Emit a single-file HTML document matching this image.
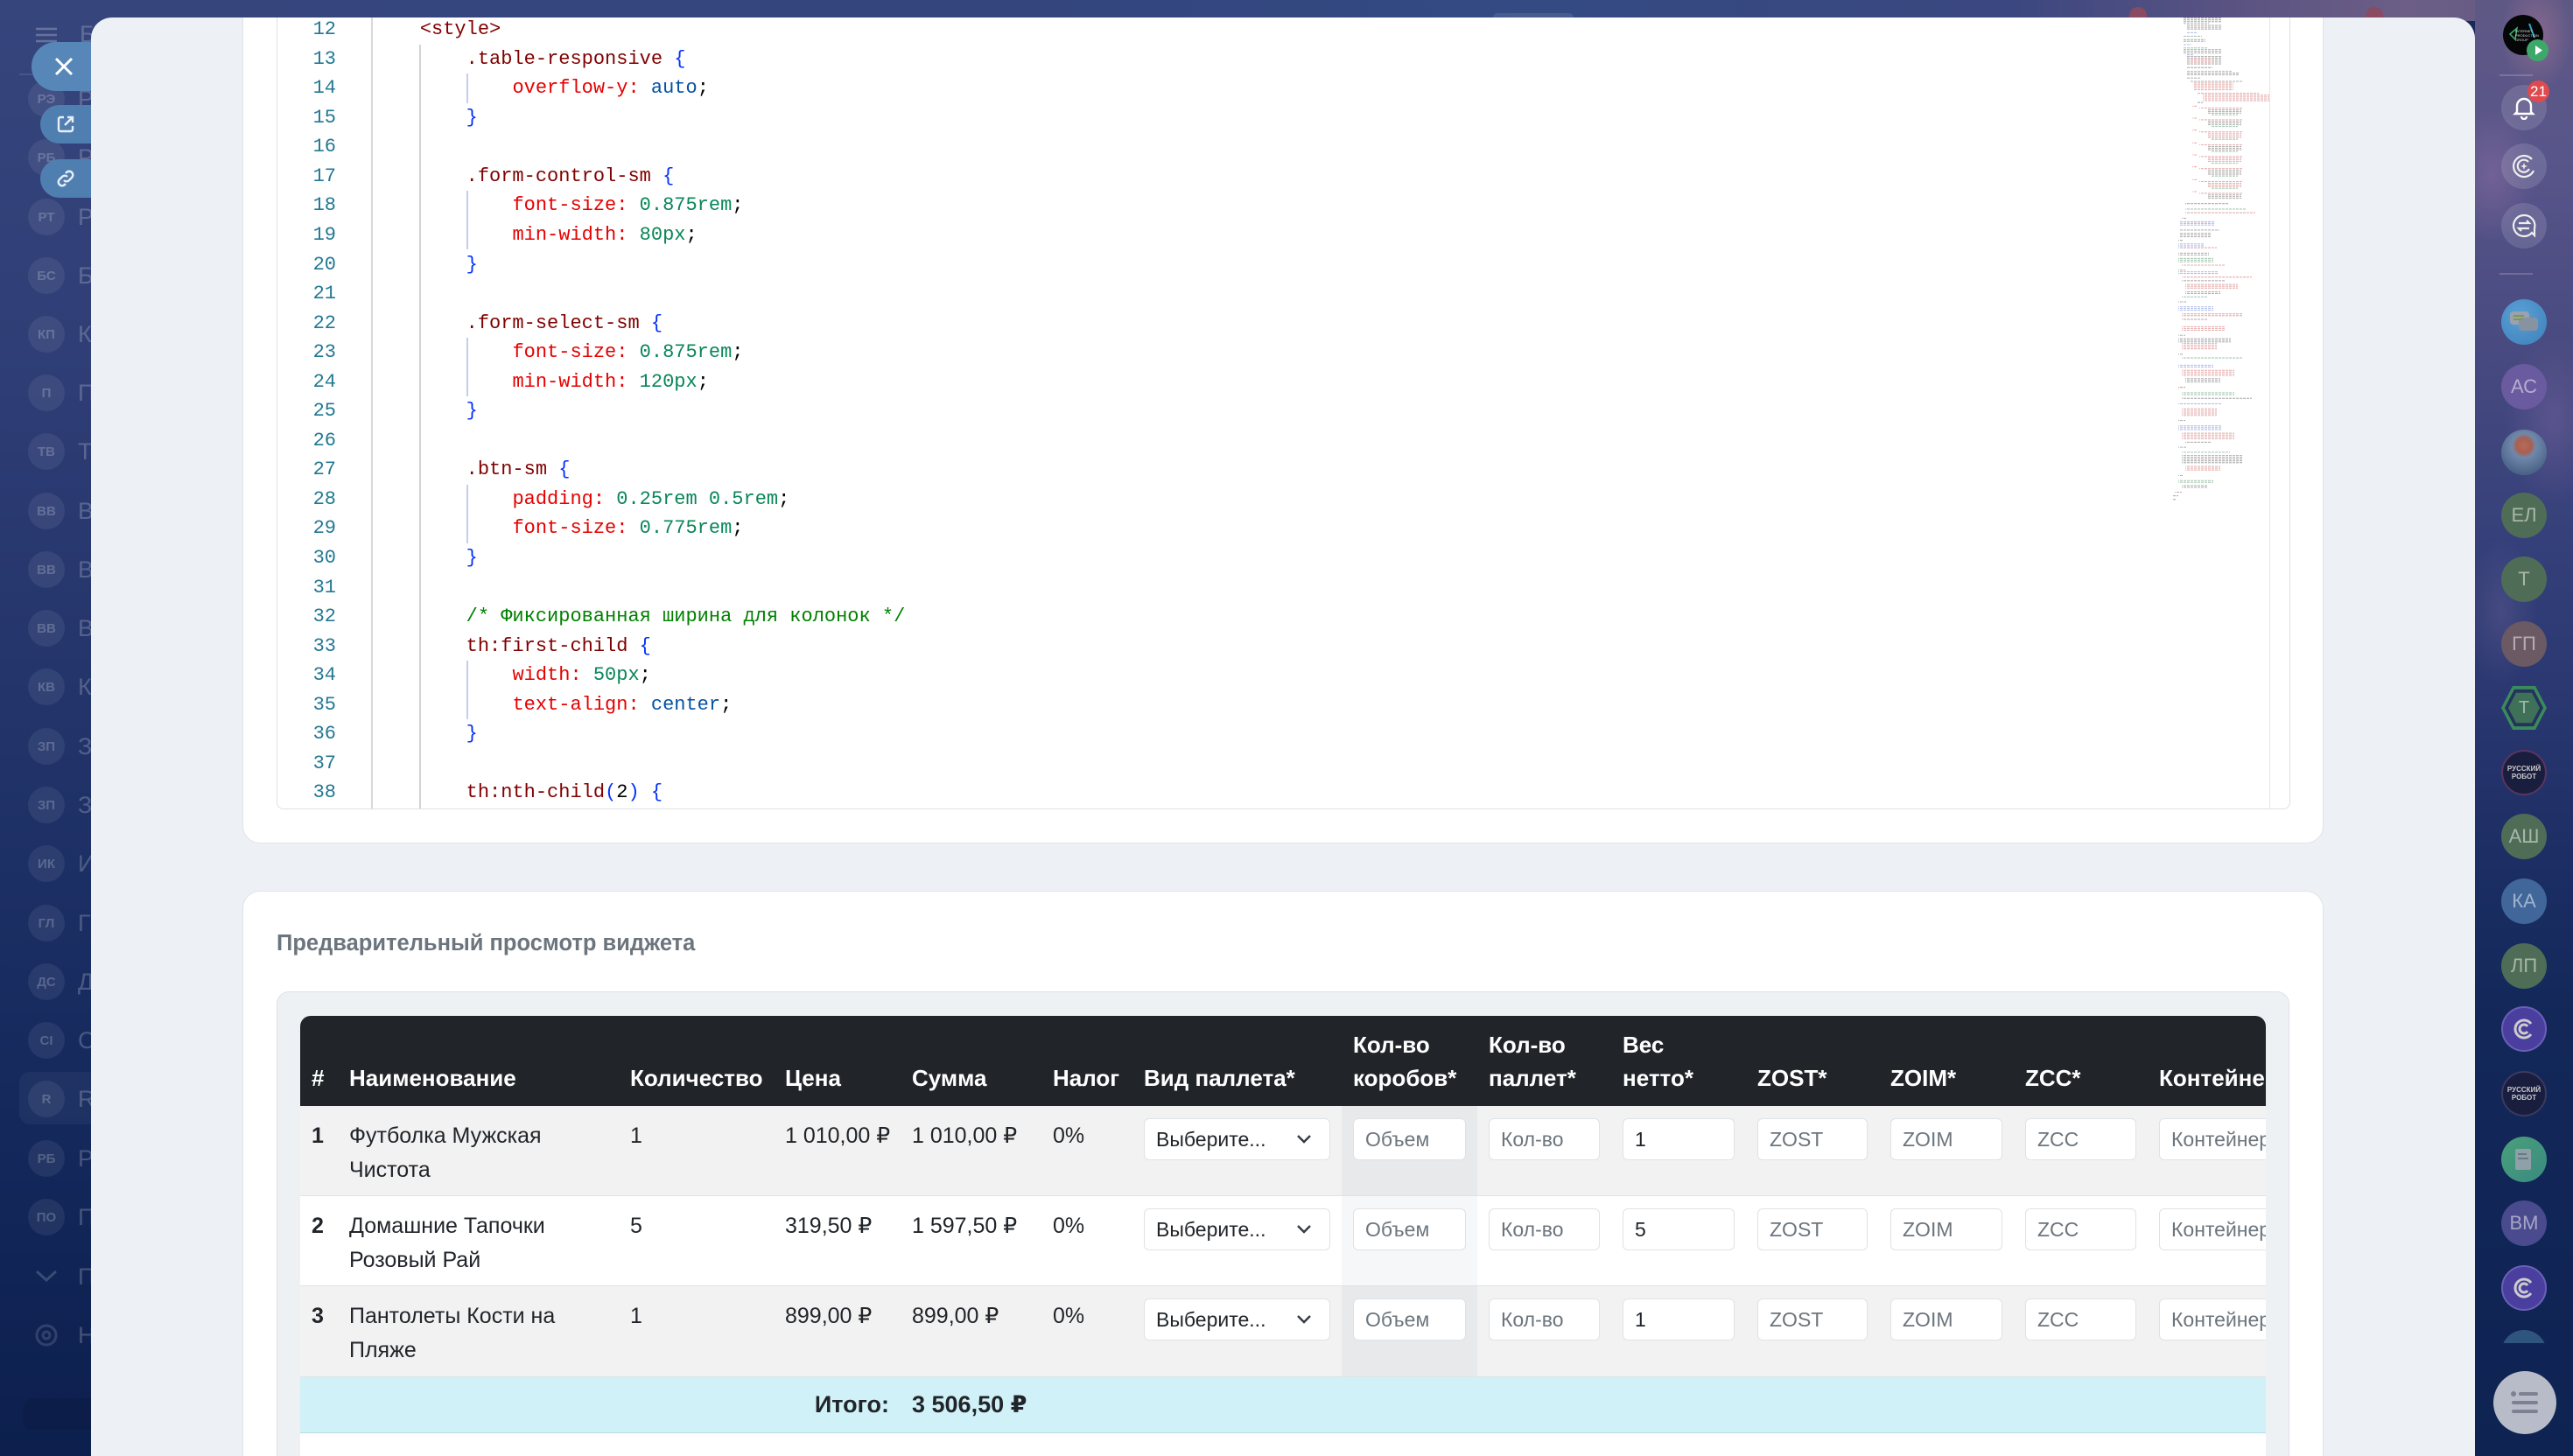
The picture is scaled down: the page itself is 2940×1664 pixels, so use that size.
<!DOCTYPE html>
<html><head><meta charset="utf-8"><style>
*{box-sizing:border-box}
html,body{margin:0;width:2940px;height:1664px;overflow:hidden}
body{position:relative;font-family:"Liberation Sans","DejaVu Sans",sans-serif;background:#16285c}
.a{position:absolute}
#left{left:0;top:0;width:700px;height:1664px;background:linear-gradient(to bottom,#36457c 0,#2f3e76 400px,#213369 850px,#15295d 1250px,#0c1f4d 1664px)}
#top{left:0;top:0;width:2940px;height:24px;background:linear-gradient(to right,#36457c 0,#34457e 1200px,#334a82 1700px,#3b4780 2300px,#5a5382 2550px,#6c5e86 2750px,#615a84 2940px)}
#right{left:2828px;top:0;width:112px;height:1664px;background:
radial-gradient(60px 90px at 70px 40px,rgba(170,120,150,.55),transparent 70%),
radial-gradient(70px 110px at 20px 200px,rgba(140,110,160,.5),transparent 70%),
radial-gradient(80px 140px at 90px 480px,rgba(120,100,160,.45),transparent 70%),
radial-gradient(60px 120px at 30px 700px,rgba(110,100,150,.35),transparent 70%),
linear-gradient(to bottom,#5e5884 0,#58558a 180px,#46497f 420px,#35407a 620px,#2a3770 800px,#1c2e64 980px,#132859 1160px,#0e2352 1664px)}
.av{position:absolute;left:32px;width:42px;height:42px;border-radius:50%;background:rgba(255,255,255,.07);color:rgba(255,255,255,.22);font-size:15px;font-weight:bold;display:flex;align-items:center;justify-content:center}
.nm{position:absolute;left:89px;font-size:27px;color:rgba(255,255,255,.22);line-height:34px}
.pill{position:absolute;border-radius:30px;display:flex;align-items:center}
#panel{left:104px;top:20px;width:2724px;height:1644px;background:#edf1f5;border-radius:24px 24px 0 0;overflow:hidden}
#inner{position:absolute;left:-104px;top:-20px;width:2940px;height:1664px;overflow:hidden}
.card{position:absolute;background:#fff;border:1px solid #e0e4e9;border-radius:20px}
.code{position:absolute;font-family:"Liberation Mono","DejaVu Sans Mono",monospace;font-size:22px;line-height:33.54px;white-space:pre;color:#000}
.s{color:#800000}.p{color:#e50000}.n{color:#098658}.v{color:#0451a5}.b{color:#0431fa}.c2{color:#008000}
.g{position:absolute;width:2px}
.ri{position:absolute;left:2858px;width:52px;height:52px;border-radius:50%;display:flex;align-items:center;justify-content:center;font-size:22px;color:rgba(255,255,255,.5)}
.row{position:absolute;left:0;width:2300px;display:flex}
.c{flex:none;padding:0 13px;white-space:nowrap;height:100%}
.w1{width:43px}.w2{width:321px}.w3{width:177px}.w4{width:145px}.w5{width:161px}.w6{width:104px}.w7{width:239px}.w8{width:155px}.w9{width:153px}.w10{width:154px}.w11{width:152px}.w12{width:154px}.w13{width:153px}.w14{width:200px}
.hd{background:#212529;color:#fff;font-weight:bold;font-size:26px;line-height:37.5px}
.hd .c{display:flex;flex-direction:column;justify-content:flex-end;padding-bottom:13px}
.bd{font-size:25px;line-height:39px;color:#212529;border-bottom:1px solid #dee2e6}
.bd .c{padding-top:15px}
.bd .c.f{padding-top:14px}
.st{background:#f2f2f2}
.sh{background:#e8e9eb}.sh2{background:#f6f7f8}
.in{height:48px;border:1px solid #dee2e6;border-radius:6px;background:#fff;padding-left:13px;line-height:46px;font-size:23px;color:#6c757d;white-space:nowrap;overflow:hidden;position:relative}
.in.v{color:#212529}
</style></head><body>

<div id="left" class="a"></div>
<div id="top" class="a"></div>
<div class="a" style="left:1706px;top:15px;width:92px;height:5px;border-radius:8px 8px 0 0;background:rgba(255,255,255,.1)"></div>
<div class="a" style="left:2433px;top:8px;width:20px;height:12px;border-radius:10px 10px 0 0;background:#8a4a62"></div>
<div class="a" style="left:2703px;top:8px;width:20px;height:12px;border-radius:10px 10px 0 0;background:#8a4a62"></div>

<!-- left sidebar faded -->
<svg class="a" style="left:41px;top:31px" width="24" height="18"><g stroke="rgba(255,255,255,.25)" stroke-width="2.5"><line x1="0" y1="2" x2="24" y2="2"/><line x1="0" y1="9" x2="24" y2="9"/><line x1="0" y1="16" x2="24" y2="16"/></g></svg>
<div class="nm" style="top:22px;left:91px">Б</div>
<div class="a" style="left:22px;top:84px;width:90px;height:2px;background:rgba(255,255,255,.1)"></div>
<div class="a" style="left:22px;top:1225px;width:200px;height:60px;border-radius:12px;background:rgba(255,255,255,.045)"></div>
<div class="av" style="top:92px">РЭ</div><div class="nm" style="top:96px">Р</div>
<div class="av" style="top:159px">РБ</div><div class="nm" style="top:163px">Р</div>
<div class="av" style="top:227px">РТ</div><div class="nm" style="top:231px">Р</div>
<div class="av" style="top:294px">БС</div><div class="nm" style="top:298px">Б</div>
<div class="av" style="top:361px">КП</div><div class="nm" style="top:365px">К</div>
<div class="av" style="top:428px">П</div><div class="nm" style="top:432px">П</div>
<div class="av" style="top:495px">ТВ</div><div class="nm" style="top:499px">Т</div>
<div class="av" style="top:563px">ВВ</div><div class="nm" style="top:567px">В</div>
<div class="av" style="top:630px">ВВ</div><div class="nm" style="top:634px">В</div>
<div class="av" style="top:697px">ВВ</div><div class="nm" style="top:701px">В</div>
<div class="av" style="top:764px">КВ</div><div class="nm" style="top:768px">К</div>
<div class="av" style="top:832px">ЗП</div><div class="nm" style="top:836px">З</div>
<div class="av" style="top:899px">ЗП</div><div class="nm" style="top:903px">З</div>
<div class="av" style="top:966px">ИК</div><div class="nm" style="top:970px">И</div>
<div class="av" style="top:1034px">ГЛ</div><div class="nm" style="top:1038px">Г</div>
<div class="av" style="top:1101px">ДС</div><div class="nm" style="top:1105px">Д</div>
<div class="av" style="top:1168px">СІ</div><div class="nm" style="top:1172px">С</div>
<div class="av" style="top:1235px">R</div><div class="nm" style="top:1239px">R</div>
<div class="av" style="top:1303px">РБ</div><div class="nm" style="top:1307px">Р</div>
<div class="av" style="top:1370px">ПО</div><div class="nm" style="top:1374px">П</div>
<svg class="a" style="left:40px;top:1450px" width="26" height="16"><polyline points="2,3 13,13 24,3" fill="none" stroke="rgba(255,255,255,.18)" stroke-width="3"/></svg><div class="nm" style="top:1442px">П</div>
<svg class="a" style="left:38px;top:1511px" width="30" height="30"><circle cx="15" cy="15" r="11" fill="none" stroke="rgba(255,255,255,.14)" stroke-width="3"/><circle cx="15" cy="15" r="4" fill="none" stroke="rgba(255,255,255,.14)" stroke-width="3"/></svg><div class="nm" style="top:1509px">Н</div>
<div class="a" style="left:26px;top:1598px;width:300px;height:36px;border-radius:12px;background:rgba(0,0,0,.08)"></div>

<!-- floating pills -->
<div class="pill" style="left:36px;top:48px;width:140px;height:56px;background:#5687b8"><svg style="margin-left:26px" width="22" height="22"><g stroke="#fff" stroke-width="3"><line x1="2" y1="2" x2="20" y2="20"/><line x1="20" y1="2" x2="2" y2="20"/></g></svg></div>
<div class="pill" style="left:46px;top:120px;width:120px;height:44px;background:#4f7eb0"><svg style="margin-left:18px" width="22" height="22" fill="none" stroke="#e8eef6" stroke-width="2.4"><path d="M9 3H5a2 2 0 0 0-2 2v12a2 2 0 0 0 2 2h12a2 2 0 0 0 2-2v-4"/><path d="M13 3h6v6M19 3l-9 9"/></svg></div>
<div class="pill" style="left:46px;top:182px;width:120px;height:44px;background:#4f7eb0"><svg style="margin-left:18px" width="22" height="22" fill="none" stroke="#e8eef6" stroke-width="2.4"><path d="M9 13a4 4 0 0 0 6 0l3-3a4 4 0 0 0-6-6l-1 1"/><path d="M13 9a4 4 0 0 0-6 0l-3 3a4 4 0 0 0 6 6l1-1"/></svg></div>

<!-- right sidebar -->
<div id="right" class="a"></div>
<div class="a" style="left:2860px;top:17px;width:46px;height:46px;border-radius:50%;background:#050608;overflow:hidden"><svg width="46" height="46"><path d="M8 22 L16 15 L14 28 Z" fill="none" stroke="#3fb06a" stroke-width="1.5"/><path d="M30 10 L36 26" stroke="#3aa8c0" stroke-width="2"/><text x="14" y="20" font-size="4" fill="#ddd" font-family="Liberation Sans">INTERNET</text><text x="14" y="25" font-size="4" fill="#ddd" font-family="Liberation Sans">PRODUCTION</text><text x="14" y="30" font-size="4" fill="#ddd" font-family="Liberation Sans">GROUP</text></svg></div>
<div class="a" style="left:2887px;top:45px;width:25px;height:25px;border-radius:50%;background:#3da86a"><svg width="25" height="25"><polygon points="10,7 18,12.5 10,18" fill="#fff"/></svg></div>
<div class="a" style="left:2856px;top:85px;width:38px;height:2px;background:rgba(255,255,255,.18)"></div>
<div class="ri" style="top:97px;background:rgba(255,255,255,.13)"><svg width="28" height="28" fill="none" stroke="#fff" stroke-width="2.4"><path d="M6 19V12a8 8 0 0 1 16 0v7l2 2H4z"/><path d="M11 24a3 3 0 0 0 6 0"/></svg></div>
<div class="a" style="left:2888px;top:92px;width:25px;height:25px;border-radius:50%;background:#df4a4f;color:#fff;font-size:17px;line-height:25px;text-align:center">21</div>
<div class="ri" style="top:164px;background:rgba(255,255,255,.13)"><svg width="30" height="30" fill="none" stroke="#eee" stroke-width="2.2"><path d="M26 20A12 12 0 1 1 24 7"/><path d="M21 18A7 7 0 1 1 20 10"/><path d="M15 11l1 3 3 1-3 1-1 3-1-3-3-1 3-1z" fill="#eee" stroke="none"/></svg></div>
<div class="ri" style="top:232px;background:rgba(255,255,255,.13)"><svg width="30" height="30" fill="none" stroke="#eee" stroke-width="2.2"><path d="M15 3a12 12 0 1 0 9 20l3 3v-8A12 12 0 0 0 15 3z"/><path d="M9 12h12l-3-3M21 18H9l3 3"/></svg></div>
<div class="a" style="left:2856px;top:312px;width:38px;height:2px;background:rgba(255,255,255,.18)"></div>
<div class="ri" style="top:342px;background:radial-gradient(circle at 40% 35%,#5aa0d8,#3f7fb8)"><svg width="36" height="30"><rect x="2" y="3" width="22" height="15" rx="4" fill="#9aa3ad"/><rect x="12" y="10" width="22" height="15" rx="4" fill="#8793a0"/><rect x="6" y="7" width="12" height="2" fill="#7a9a4a"/><rect x="6" y="11" width="10" height="2" fill="#7a9a4a"/></svg></div>
<div class="ri" style="top:416px;background:#6a5aa0">АС</div>
<div class="ri" style="top:491px;background:radial-gradient(circle at 50% 35%,#b86a5a 0,#a86050 20%,#7088aa 32%,#4a6488 75%)"></div>
<div class="ri" style="top:563px;background:#4e6c56">ЕЛ</div>
<div class="ri" style="top:636px;background:#4e6c56">Т</div>
<div class="ri" style="top:710px;background:#6b5963">ГП</div>
<div class="ri" style="top:783px;background:#3a8a5c;border-radius:0;clip-path:polygon(25% 2%,75% 2%,100% 50%,75% 98%,25% 98%,0 50%)"></div>
<div class="ri" style="top:787px;left:2862px;width:44px;height:44px;background:#24325e;border-radius:0;clip-path:polygon(25% 2%,75% 2%,100% 50%,75% 98%,25% 98%,0 50%)"></div>
<div class="ri" style="top:791px;left:2866px;width:36px;height:36px;background:#3f7058;border-radius:0;clip-path:polygon(25% 2%,75% 2%,100% 50%,75% 98%,25% 98%,0 50%);font-size:20px">Т</div>
<div class="ri" style="top:857px;background:#1a1e3e;border:2px solid #5a3560;font-size:8px;font-weight:bold;line-height:9px;text-align:center;color:#ccc">РУССКИЙ<br>РОБОТ</div>
<div class="ri" style="top:930px;background:#4e6c56">АШ</div>
<div class="ri" style="top:1004px;background:#40669a">КА</div>
<div class="ri" style="top:1078px;background:#4e6c56">ЛП</div>
<div class="ri" style="top:1150px;background:#4a3e9e;border:2px solid #6a60b8"><svg width="28" height="28" fill="none" stroke="#ccc" stroke-width="3"><path d="M22 20A10 10 0 1 1 22 8"/><path d="M18 17A5 5 0 1 1 18 11"/></svg></div>
<div class="ri" style="top:1224px;background:#1a1e3e;border:2px solid #3a3a60;font-size:8px;font-weight:bold;line-height:9px;text-align:center;color:#ccc">РУССКИЙ<br>РОБОТ</div>
<div class="ri" style="top:1299px;background:linear-gradient(135deg,#4aa07a,#3a8a80)"><svg width="26" height="30"><rect x="3" y="3" width="18" height="24" rx="2" fill="#8fa0a8"/><rect x="6" y="8" width="10" height="2" fill="#6a7a84"/><rect x="6" y="13" width="12" height="2" fill="#6a7a84"/></svg></div>
<div class="ri" style="top:1372px;background:#4a4a8e">ВМ</div>
<div class="ri" style="top:1446px;background:#4a3e9e;border:2px solid #6a60b8"><svg width="28" height="28" fill="none" stroke="#ccc" stroke-width="3"><path d="M22 20A10 10 0 1 1 22 8"/><path d="M18 17A5 5 0 1 1 18 11"/></svg></div>
<div class="a" style="left:2858px;top:1520px;width:52px;height:15px;overflow:hidden"><div style="width:52px;height:52px;border-radius:50%;background:#2f557e"></div></div>
<div class="a" style="left:2849px;top:1567px;width:72px;height:72px;border-radius:50%;background:#b8bcc8"><svg width="72" height="72"><g fill="#7d8292"><circle cx="23" cy="26" r="3"/><rect x="29" y="24" width="22" height="4" rx="2"/><rect x="21" y="34" width="30" height="4" rx="2"/><rect x="21" y="44" width="30" height="4" rx="2"/></g></svg></div>

<!-- main panel -->
<div id="panel" class="a"><div id="inner">

<div class="card" style="left:277px;top:-40px;width:2378px;height:1004px"></div>
<div class="a" style="left:316px;top:-40px;width:2301px;height:965px;border:1px solid #dce1e6;border-radius:8px;background:#fff"></div>

<div class="g" style="left:424px;top:0;height:924px;background:#d9d9d9"></div>
<div class="g" style="left:479px;top:51px;height:873px;background:#d3d3d3"></div>
<div class="g" style="left:533px;top:84px;height:34px;background:#c6ccf2"></div>
<div class="g" style="left:533px;top:218px;height:67px;background:#c6ccf2"></div>
<div class="g" style="left:533px;top:386px;height:67px;background:#c6ccf2"></div>
<div class="g" style="left:533px;top:554px;height:67px;background:#c6ccf2"></div>
<div class="g" style="left:533px;top:755px;height:67px;background:#c6ccf2"></div>

<div class="code" style="left:300px;top:17.2px;width:84px;text-align:right;color:#237893">12
13
14
15
16
17
18
19
20
21
22
23
24
25
26
27
28
29
30
31
32
33
34
35
36
37
38</div>

<div class="code" style="left:427px;top:17.2px">    <span class="s">&lt;style&gt;</span>
        <span class="s">.table-responsive</span> <span class="b">{</span>
            <span class="p">overflow-y:</span> <span class="v">auto</span>;
        <span class="b">}</span>

        <span class="s">.form-control-sm</span> <span class="b">{</span>
            <span class="p">font-size:</span> <span class="n">0.875rem</span>;
            <span class="p">min-width:</span> <span class="n">80px</span>;
        <span class="b">}</span>

        <span class="s">.form-select-sm</span> <span class="b">{</span>
            <span class="p">font-size:</span> <span class="n">0.875rem</span>;
            <span class="p">min-width:</span> <span class="n">120px</span>;
        <span class="b">}</span>

        <span class="s">.btn-sm</span> <span class="b">{</span>
            <span class="p">padding:</span> <span class="n">0.25rem</span> <span class="n">0.5rem</span>;
            <span class="p">font-size:</span> <span class="n">0.775rem</span>;
        <span class="b">}</span>

        <span class="c2">/* Фиксированная ширина для колонок */</span>
        <span class="s">th:first-child</span> <span class="b">{</span>
            <span class="p">width:</span> <span class="n">50px</span>;
            <span class="p">text-align:</span> <span class="v">center</span>;
        <span class="b">}</span>

        <span class="s">th:nth-child</span><span class="b">(</span>2<span class="b">)</span> <span class="b">{</span></div>

<!-- minimap -->
<svg class="a" style="left:2483px;top:20px" width="112" height="560">
<defs>
<pattern id="k" width="4" height="2.1" patternUnits="userSpaceOnUse"><rect width="3" height="1.1" fill="#8a8a8a"/></pattern>
<pattern id="r" width="4" height="2.1" patternUnits="userSpaceOnUse"><rect width="3" height="1.1" fill="#dc8a8a"/></pattern>
<pattern id="u" width="4" height="2.1" patternUnits="userSpaceOnUse"><rect width="3" height="1.1" fill="#8c9ce0"/></pattern>
<pattern id="e" width="4" height="2.1" patternUnits="userSpaceOnUse"><rect width="3" height="1.1" fill="#80b090"/></pattern>
</defs>
<g opacity="0.7">
<rect x="11" y="0" width="45" height="6" fill="url(#k)"/><rect x="11" y="6" width="30" height="2" fill="url(#e)"/><rect x="15" y="8" width="40" height="6" fill="url(#k)"/><rect x="20" y="10" width="18" height="2" fill="url(#r)"/><rect x="15" y="16" width="12" height="2" fill="url(#u)"/><rect x="11" y="20" width="22" height="2" fill="url(#e)"/><rect x="11" y="24" width="26" height="4" fill="url(#k)"/><rect x="11" y="30" width="10" height="2" fill="url(#u)"/><rect x="11" y="34" width="28" height="2" fill="url(#e)"/><rect x="11" y="36" width="44" height="6" fill="url(#k)"/>
<rect x="15" y="42" width="8" height="2" fill="url(#u)"/><rect x="15" y="44" width="40" height="10" fill="url(#k)"/><rect x="20" y="46" width="25" height="6" fill="url(#r)"/><rect x="15" y="56" width="30" height="2" fill="url(#k)"/><rect x="15" y="60" width="52" height="2" fill="url(#e)"/><rect x="15" y="62" width="60" height="4" fill="url(#k)"/><rect x="15" y="68" width="16" height="2" fill="url(#k)"/>
<rect x="20" y="72" width="60" height="2" fill="url(#k)"/><rect x="24" y="74" width="45" height="10" fill="url(#r)"/><rect x="28" y="86" width="70" height="2" fill="url(#r)"/><rect x="34" y="88" width="76" height="8" fill="url(#r)"/><rect x="28" y="96" width="6" height="2" fill="url(#k)"/>
<rect x="22" y="100" width="6" height="2" fill="url(#r)"/><rect x="30" y="102" width="50" height="2" fill="url(#r)"/><rect x="40" y="104" width="38" height="6" fill="url(#k)"/><rect x="44" y="110" width="30" height="2" fill="url(#e)"/>
<rect x="22" y="114" width="6" height="2" fill="url(#r)"/><rect x="30" y="116" width="50" height="2" fill="url(#r)"/><rect x="40" y="118" width="38" height="6" fill="url(#k)"/><rect x="44" y="124" width="30" height="2" fill="url(#e)"/>
<rect x="22" y="128" width="6" height="2" fill="url(#r)"/><rect x="30" y="130" width="50" height="2" fill="url(#r)"/><rect x="40" y="132" width="38" height="6" fill="url(#r)"/><rect x="44" y="138" width="30" height="2" fill="url(#e)"/>
<rect x="22" y="142" width="6" height="2" fill="url(#r)"/><rect x="30" y="144" width="50" height="2" fill="url(#r)"/><rect x="40" y="146" width="38" height="6" fill="url(#k)"/><rect x="44" y="152" width="30" height="2" fill="url(#e)"/>
<rect x="22" y="156" width="6" height="2" fill="url(#r)"/><rect x="30" y="158" width="50" height="2" fill="url(#r)"/><rect x="40" y="160" width="38" height="6" fill="url(#r)"/><rect x="44" y="166" width="30" height="2" fill="url(#e)"/>
<rect x="22" y="170" width="6" height="2" fill="url(#r)"/><rect x="30" y="172" width="50" height="2" fill="url(#r)"/><rect x="40" y="174" width="38" height="6" fill="url(#k)"/><rect x="44" y="180" width="30" height="2" fill="url(#e)"/>
<rect x="22" y="184" width="6" height="2" fill="url(#r)"/><rect x="30" y="186" width="50" height="2" fill="url(#r)"/><rect x="40" y="188" width="38" height="6" fill="url(#r)"/><rect x="44" y="194" width="30" height="2" fill="url(#e)"/>
<rect x="22" y="198" width="6" height="2" fill="url(#r)"/><rect x="30" y="200" width="50" height="2" fill="url(#r)"/><rect x="40" y="202" width="38" height="6" fill="url(#k)"/>
<rect x="14" y="212" width="50" height="2" fill="url(#k)"/><rect x="14" y="218" width="70" height="2" fill="url(#e)"/><rect x="14" y="222" width="80" height="2" fill="url(#r)"/><rect x="10" y="228" width="6" height="2" fill="url(#k)"/><rect x="8" y="232" width="40" height="6" fill="url(#u)"/><rect x="12" y="234" width="30" height="2" fill="url(#r)"/><rect x="8" y="242" width="45" height="2" fill="url(#k)"/><rect x="8" y="246" width="35" height="6" fill="url(#k)"/><rect x="6" y="254" width="6" height="2" fill="url(#k)"/>
<rect x="6" y="258" width="30" height="6" fill="url(#u)"/><rect x="10" y="262" width="40" height="2" fill="url(#r)"/><rect x="6" y="268" width="35" height="4" fill="url(#k)"/><rect x="6" y="274" width="40" height="6" fill="url(#e)"/><rect x="10" y="282" width="50" height="2" fill="url(#r)"/><rect x="6" y="288" width="8" height="2" fill="url(#k)"/>
<rect x="6" y="290" width="45" height="4" fill="url(#u)"/><rect x="10" y="296" width="80" height="2" fill="url(#r)"/><rect x="10" y="300" width="50" height="2" fill="url(#k)"/><rect x="14" y="304" width="60" height="6" fill="url(#r)"/><rect x="14" y="312" width="40" height="4" fill="url(#k)"/><rect x="10" y="318" width="30" height="2" fill="url(#e)"/><rect x="6" y="324" width="10" height="2" fill="url(#k)"/>
<rect x="6" y="330" width="40" height="6" fill="url(#u)"/><rect x="10" y="338" width="70" height="4" fill="url(#r)"/><rect x="10" y="344" width="30" height="2" fill="url(#k)"/><rect x="10" y="352" width="50" height="6" fill="url(#r)"/><rect x="6" y="362" width="8" height="2" fill="url(#k)"/><rect x="6" y="366" width="60" height="6" fill="url(#k)"/><rect x="10" y="372" width="40" height="8" fill="url(#r)"/><rect x="6" y="384" width="5" height="2" fill="url(#k)"/><rect x="10" y="388" width="70" height="2" fill="url(#e)"/><rect x="6" y="396" width="40" height="4" fill="url(#u)"/><rect x="10" y="402" width="60" height="8" fill="url(#r)"/><rect x="14" y="412" width="40" height="6" fill="url(#k)"/><rect x="6" y="422" width="8" height="2" fill="url(#k)"/><rect x="10" y="428" width="60" height="4" fill="url(#e)"/><rect x="10" y="434" width="80" height="2" fill="url(#k)"/><rect x="6" y="440" width="50" height="2" fill="url(#u)"/><rect x="10" y="446" width="40" height="10" fill="url(#r)"/><rect x="6" y="460" width="8" height="2" fill="url(#k)"/><rect x="6" y="466" width="50" height="6" fill="url(#u)"/><rect x="10" y="474" width="60" height="8" fill="url(#r)"/><rect x="14" y="484" width="30" height="2" fill="url(#k)"/><rect x="6" y="490" width="10" height="2" fill="url(#k)"/><rect x="10" y="496" width="55" height="2" fill="url(#e)"/><rect x="10" y="500" width="70" height="10" fill="url(#k)"/><rect x="14" y="512" width="40" height="6" fill="url(#r)"/><rect x="6" y="522" width="6" height="2" fill="url(#k)"/><rect x="6" y="528" width="40" height="4" fill="url(#e)"/><rect x="10" y="534" width="30" height="4" fill="url(#k)"/><rect x="2" y="542" width="8" height="2" fill="url(#k)"/><rect x="0" y="546" width="6" height="2" fill="url(#k)"/><rect x="0" y="550" width="4" height="2" fill="url(#k)"/>
</g>
</svg>
<div class="a" style="left:2593px;top:0;width:1px;height:924px;background:#e6e6e6"></div>

<!-- card 2 -->
<div class="card" style="left:277px;top:1018px;width:2378px;height:646px;border-bottom:none;border-radius:20px 20px 0 0"></div>
<div class="a" style="left:316px;top:1057px;font-size:25.5px;font-weight:bold;line-height:42px;color:#6c757d;white-space:nowrap">Предварительный просмотр виджета</div>
<div class="a" style="left:316px;top:1133px;width:2300px;height:531px;background:#eef1f4;border:1px solid #dde2e7;border-bottom:none;border-radius:14px 14px 0 0"></div>

<div class="a" style="left:343px;top:1161px;width:2246px;height:503px;overflow:hidden;border-radius:12px 12px 0 0;background:#fff">
<div class="row hd" style="top:0;height:103px">
<div class="c w1"><span>#</span></div><div class="c w2"><span>Наименование</span></div><div class="c w3"><span>Количество</span></div><div class="c w4"><span>Цена</span></div><div class="c w5"><span>Сумма</span></div><div class="c w6"><span>Налог</span></div><div class="c w7"><span>Вид паллета*</span></div><div class="c w8"><span>Кол-во<br>коробов*</span></div><div class="c w9"><span>Кол-во<br>паллет*</span></div><div class="c w10"><span>Вес<br>нетто*</span></div><div class="c w11"><span>ZOST*</span></div><div class="c w12"><span>ZOIM*</span></div><div class="c w13"><span>ZCC*</span></div><div class="c w14"><span>Контейнер</span></div>
</div>

<div class="row bd st" style="top:103px;height:103px">
<div class="c w1" style="font-weight:bold">1</div><div class="c w2">Футболка Мужская<br>Чистота</div><div class="c w3">1</div><div class="c w4">1&nbsp;010,00&nbsp;₽</div><div class="c w5">1&nbsp;010,00&nbsp;₽</div><div class="c w6">0%</div>
<div class="c w7 f"><div class="in v">Выберите...<svg class="a" style="left:173px;top:17px" width="18" height="12"><polyline points="2,2 9,9 16,2" fill="none" stroke="#343a40" stroke-width="2.4"/></svg></div></div>
<div class="c w8 f sh"><div class="in">Объем</div></div><div class="c w9 f"><div class="in">Кол-во</div></div><div class="c w10 f"><div class="in v">1</div></div><div class="c w11 f"><div class="in">ZOST</div></div><div class="c w12 f"><div class="in">ZOIM</div></div><div class="c w13 f"><div class="in">ZCC</div></div><div class="c w14 f"><div class="in" style="width:180px">Контейнер</div></div>
</div>

<div class="row bd" style="top:206px;height:103px;background:#fff">
<div class="c w1" style="font-weight:bold">2</div><div class="c w2">Домашние Тапочки<br>Розовый Рай</div><div class="c w3">5</div><div class="c w4">319,50&nbsp;₽</div><div class="c w5">1&nbsp;597,50&nbsp;₽</div><div class="c w6">0%</div>
<div class="c w7 f"><div class="in v">Выберите...<svg class="a" style="left:173px;top:17px" width="18" height="12"><polyline points="2,2 9,9 16,2" fill="none" stroke="#343a40" stroke-width="2.4"/></svg></div></div>
<div class="c w8 f sh2"><div class="in">Объем</div></div><div class="c w9 f"><div class="in">Кол-во</div></div><div class="c w10 f"><div class="in v">5</div></div><div class="c w11 f"><div class="in">ZOST</div></div><div class="c w12 f"><div class="in">ZOIM</div></div><div class="c w13 f"><div class="in">ZCC</div></div><div class="c w14 f"><div class="in" style="width:180px">Контейнер</div></div>
</div>

<div class="row bd st" style="top:309px;height:104px">
<div class="c w1" style="font-weight:bold">3</div><div class="c w2">Пантолеты Кости на<br>Пляже</div><div class="c w3">1</div><div class="c w4">899,00&nbsp;₽</div><div class="c w5">899,00&nbsp;₽</div><div class="c w6">0%</div>
<div class="c w7 f"><div class="in v">Выберите...<svg class="a" style="left:173px;top:17px" width="18" height="12"><polyline points="2,2 9,9 16,2" fill="none" stroke="#343a40" stroke-width="2.4"/></svg></div></div>
<div class="c w8 f sh"><div class="in">Объем</div></div><div class="c w9 f"><div class="in">Кол-во</div></div><div class="c w10 f"><div class="in v">1</div></div><div class="c w11 f"><div class="in">ZOST</div></div><div class="c w12 f"><div class="in">ZOIM</div></div><div class="c w13 f"><div class="in">ZCC</div></div><div class="c w14 f"><div class="in" style="width:180px">Контейнер</div></div>
</div>

<div class="row" style="top:413px;height:64px;background:#d1f1f9;border-bottom:1px solid #bcd9e2;font-size:27px;font-weight:bold;color:#212529;line-height:62px">
<div class="c" style="width:686px;text-align:right">Итого:</div><div class="c w5">3&nbsp;506,50&nbsp;₽</div>
</div>
<div class="row" style="top:477px;height:26px;background:#fff"></div>
</div>

</div></div>
</body></html>
